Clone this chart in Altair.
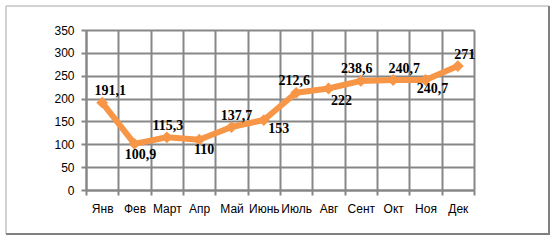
import altair as alt
import pandas as pd

months = ["Янв", "Фев", "Март", "Апр", "Май", "Июнь", "Июль", "Авг", "Сент", "Окт", "Ноя", "Дек"]
values = [191.1, 100.9, 115.3, 110, 137.7, 153, 212.6, 222, 238.6, 240.7, 240.7, 271]
y_ticks = [0, 50, 100, 150, 200, 250, 300, 350]


def fmt(v):
    return (str(int(v)) if float(v).is_integer() else str(v)).replace(".", ",")


df = pd.DataFrame({"month": months, "value": values, "label": [fmt(v) for v in values]})

GRID = "#878787"
ORANGE = "#F79646"

x = alt.X(
    "month:N",
    sort=months,
    scale=alt.Scale(paddingInner=0, paddingOuter=0),
    axis=alt.Axis(
        title=None,
        grid=True,
        tickBand="extent",
        gridColor=GRID,
        gridWidth=2,
        domainColor=GRID,
        domainWidth=2,
        tickColor=GRID,
        tickWidth=2,
        tickSize=5,
        labelAngle=0,
        labelFont="Liberation Sans",
        labelFontSize=12,
        labelColor="#000000",
        labelPadding=8,
    ),
)
y = alt.Y(
    "value:Q",
    scale=alt.Scale(domain=[0, 350], nice=False),
    axis=alt.Axis(
        title=None,
        values=y_ticks,
        grid=True,
        gridColor=GRID,
        gridWidth=2,
        domainColor=GRID,
        domainWidth=2,
        tickColor=GRID,
        tickWidth=2,
        tickSize=5,
        labelFont="Liberation Sans",
        labelFontSize=12,
        labelColor="#000000",
        labelPadding=7,
    ),
)

base = alt.Chart(df)
line = base.mark_line(color=ORANGE, strokeWidth=6, strokeJoin="round").encode(x=x, y=y)
pts = base.mark_point(shape="diamond", filled=True, color=ORANGE, size=140, opacity=1).encode(x=x, y=y)

offsets = {
    "Янв": (8, -12), "Фев": (6, 11), "Март": (1, -11), "Апр": (5, 10),
    "Май": (5, -11), "Июнь": (15, 9), "Июль": (-2, -12), "Авг": (13, 12),
    "Сент": (-4, -12), "Окт": (11, -11), "Ноя": (7, 9), "Дек": (7, -11),
}
texts = []
for m, (dx, dy) in offsets.items():
    texts.append(
        base.transform_filter(alt.datum.month == m)
        .mark_text(
            font="Liberation Serif", fontSize=14, fontWeight="bold", color="#000000",
            dx=dx, dy=dy, align="center", baseline="middle",
        )
        .encode(x=x, y=y, text="label:N")
    )

one = alt.Data(values=[{"a": 1}])
b_thin = alt.Chart(one).mark_rule(color="#a6a6a6", strokeWidth=1)
b_thick = alt.Chart(one).mark_rule(color="#808080", strokeWidth=2)
border = [
    b_thin.encode(x=alt.value(-80), x2=alt.value(463), y=alt.value(-24)),
    b_thin.encode(x=alt.value(-80), y=alt.value(-24), y2=alt.value(204)),
    b_thick.encode(x=alt.value(463), y=alt.value(-24), y2=alt.value(205)),
    b_thick.encode(x=alt.value(-80), x2=alt.value(464), y=alt.value(204)),
]

chart = alt.layer(line, pts, *texts, *border).properties(
    width=388,
    height=160,
    autosize=alt.AutoSizeParams(type="none"),
    padding={"left": 86, "top": 30, "right": 80, "bottom": 50},
).configure_view(stroke=None).configure(background="white")

chart.save("out.html", embed_options={"renderer": "svg", "actions": False})
